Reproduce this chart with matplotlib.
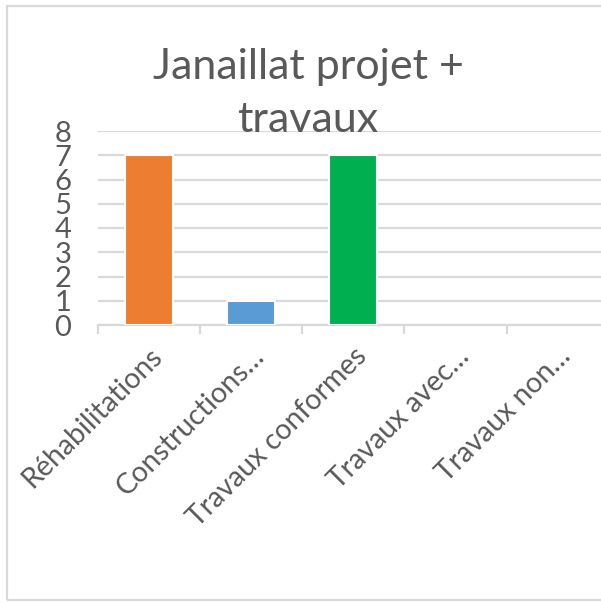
import matplotlib
matplotlib.use("Agg")
import matplotlib.pyplot as plt
from matplotlib.patches import Rectangle

categories = ["Réhabilitations", "Constructions…", "Travaux conformes", "Travaux avec…", "Travaux non…"]
values = [7, 1, 7, 0, 0]
bar_colors = ["#ED7D31", "#5B9BD5", "#00B050", "#A5A5A5", "#FFC000"]
yticks = [0, 1, 2, 3, 4, 5, 6, 7, 8]
title = "Janaillat projet +\ntravaux"

plt.rcParams['font.family'] = ['Lato', 'DejaVu Sans']
W, H = 601, 603
fig = plt.figure(figsize=(W / 100, H / 100), dpi=100)
fig.patch.set_facecolor("white")

# chart border
fig.patches.append(Rectangle((7 / W, 3 / H), 1.2, (597 - 3) / H, transform=fig.transFigure,
                             fill=False, edgecolor="#D9D9D9", linewidth=1.6, clip_on=False))

left, right = 97.7 / W, 608.8 / W
bottom, top = (H - 325) / H, (H - 131) / H
ax = fig.add_axes([left, bottom, right - left, top - bottom])
ax.set_facecolor("none")

x = list(range(len(categories)))
lws = [1.5 if v > 0 else 0 for v in values]
ax.bar(x, values, width=0.47, color=bar_colors, edgecolor="white", linewidth=lws, zorder=3)

ax.set_xlim(-0.5, len(categories) - 0.5)
ax.set_ylim(0, 8)
ax.set_yticks(yticks)
ax.set_yticklabels([str(v) for v in yticks])
ax.yaxis.grid(True, color="#D9D9D9", linewidth=1.6, zorder=0)
ax.set_axisbelow(True)
for s in ["top", "right", "left"]:
    ax.spines[s].set_visible(False)
ax.spines["bottom"].set_color("#D9D9D9")
ax.spines["bottom"].set_linewidth(1.6)
ax.spines["bottom"].set_zorder(1)

ax.tick_params(axis="y", length=0, pad=19, labelsize=21, labelcolor="#595959")
ax.set_xticks([i - 0.5 for i in range(len(categories) + 1)], minor=True)
ax.set_xticks(x)
ax.tick_params(axis="x", which="minor", length=6.5, width=1.6, color="#D9D9D9", direction="out")
ax.tick_params(axis="x", which="major", length=0, pad=13)
ax.set_xticklabels(categories, rotation=45, ha="right", va="top", rotation_mode="anchor",
                   fontsize=20.5, color="#595959")

fig.text(308 / W, (H - 48) / H, title, ha="center", va="top", fontsize=31,
         color="#595959", linespacing=1.5)

fig.savefig("out.png", dpi=100, facecolor="white")
